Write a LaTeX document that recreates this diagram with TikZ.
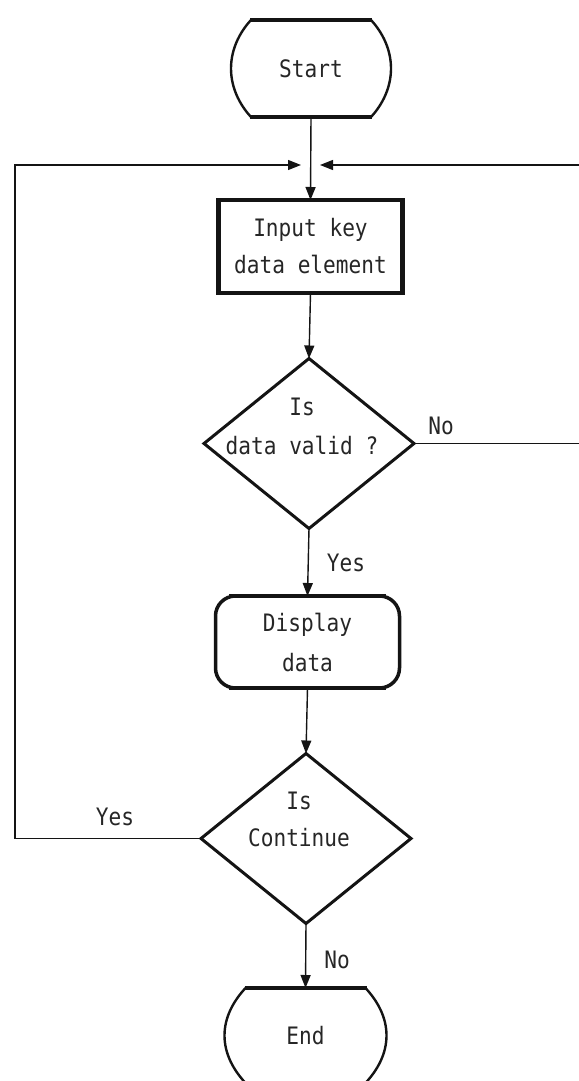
\documentclass[tikz,border=0pt]{standalone}
\usepackage{fontspec}
\newfontfamily\dotfont[FakeStretch=0.88]{DejaVu Sans Mono}
\usetikzlibrary{arrows.meta,shapes.geometric}
\begin{document}
\begin{tikzpicture}[x=1pt,y=-1pt,
  ink/.style={draw=black!92},
  conn/.style={ink, line width=1.4pt},
  arr/.style={conn, -{Triangle[length=13pt,width=10pt]}},
  txt/.style={font=\dotfont\fontsize{24}{37}\selectfont, text=black!85, align=center, inner sep=0pt, outer sep=0pt},
  procbox/.style={txt, ink, rectangle, line width=4.5pt, minimum width=184pt, minimum height=93pt},
  dispbox/.style={txt, ink, rectangle, rounded corners=20pt, line width=3.5pt, minimum width=184pt, minimum height=92pt},
  decision/.style={diamond, ink, line width=3pt, minimum width=210pt, minimum height=170pt, inner sep=0pt, outer sep=0pt},
  termanchor/.style={txt, minimum width=161pt, minimum height=97pt},
  termside/.style={ink, line width=2.4pt},
  termflat/.style={ink, line width=4.5pt}
]
\useasboundingbox (0,0) rectangle (578,1081);

% Start terminal
\node[termanchor] (start) at (311,68.5) {Start};
\draw[termside] (251,20) .. controls (239,33) and (231,50) .. (231,68.5) .. controls (231,87) and (239,104) .. (251,117);
\draw[termside] (371,20) .. controls (383,33) and (391,50) .. (391,68.5) .. controls (391,87) and (383,104) .. (371,117);
\draw[termflat] (250,20) -- (372,20);
\draw[termflat] (250,117) -- (372,117);

% Input box
\node[procbox] (input) at (310.5,246.5) {Input key\\data element};

% Decision 1
\node[decision] (d1) at (309,443.5) {};
\node[txt] (d1t) at (302,426) {Is\\[2pt]data valid ?};

% Display box
\node[dispbox] (disp) at (307.5,642) {Display\\[3pt]data};
\draw[termflat, line width=4pt] (229,596) -- (386,596);
\draw[termflat, line width=4pt] (229,688) -- (386,688);

% Decision 2
\node[decision] (d2) at (306,838.5) {};
\node[txt] (d2t) at (299,819) {Is\\Continue};

% End terminal
\node[termanchor, minimum height=95pt] (end) at (305.5,1035.5) {End};
\draw[termside] (245.5,988) .. controls (233.5,1001) and (224.5,1017) .. (224.5,1035.5) .. controls (224.5,1054) and (233.5,1070) .. (245.5,1083);
\draw[termside] (365.5,988) .. controls (377.5,1001) and (386.5,1017) .. (386.5,1035.5) .. controls (386.5,1054) and (377.5,1070) .. (365.5,1083);
\draw[termflat] (244.5,988) -- (366.5,988);
\draw[termflat] (244.5,1083) -- (366.5,1083);

% join points of the loops
\coordinate (jl) at (301,165);
\coordinate (jr) at (320,165);
\coordinate (lc) at (15,165);
\coordinate (rc) at (592,165);

% connectors
\draw[arr] (start.south) -- (input.north);
\draw[arr] (input.south) -- (d1.north);
\draw[arr] (d1.south) -- (disp.north);
\draw[arr] (disp.south) -- (d2.north);
\draw[arr] (d2.south) -- (end.north);
\draw[arr] (d2.west) -| (lc) -- (jl);
\draw[arr] (d1.east) -| (rc) -- (jr);

% labels
\node[txt] (lno1) at (441,426) {No};
\node[txt] (lyes1) at (346,563) {Yes};
\node[txt] (lyes2) at (115,817) {Yes};
\node[txt] (lno2) at (337,960) {No};
\end{tikzpicture}
\end{document}
